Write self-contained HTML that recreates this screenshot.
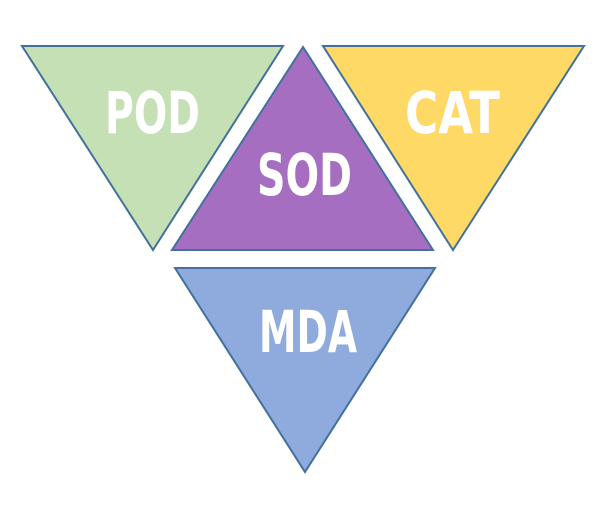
<!DOCTYPE html>
<html><head><meta charset="utf-8"><style>html,body{margin:0;padding:0;background:#fff;}svg{display:block}</style></head>
<body>
<svg width="610" height="515" viewBox="0 0 610 515" xmlns="http://www.w3.org/2000/svg">
<g stroke="#41719C" stroke-width="2" stroke-linejoin="miter">
<polygon points="22,46 283,46 153,250" fill="#C5E0B4"/>
<polygon points="303,47 172,250 433,250" fill="#A56EC1"/>
<polygon points="323,46 584,46 453,250" fill="#FFD966"/>
<polygon points="175,268 435,268 305,472" fill="#8FAADC"/>
</g>
<g fill="#fff" font-family="'DejaVu Sans Condensed','Liberation Sans',sans-serif" font-weight="bold" font-size="58">
<text x="105" y="133" textLength="95" lengthAdjust="spacingAndGlyphs">POD</text>
<text x="257" y="195" textLength="95" lengthAdjust="spacingAndGlyphs">SOD</text>
<text x="405" y="133" textLength="95" lengthAdjust="spacingAndGlyphs">CAT</text>
<text x="259" y="352" textLength="98" lengthAdjust="spacingAndGlyphs">MDA</text>
</g>
</svg>
</body></html>
